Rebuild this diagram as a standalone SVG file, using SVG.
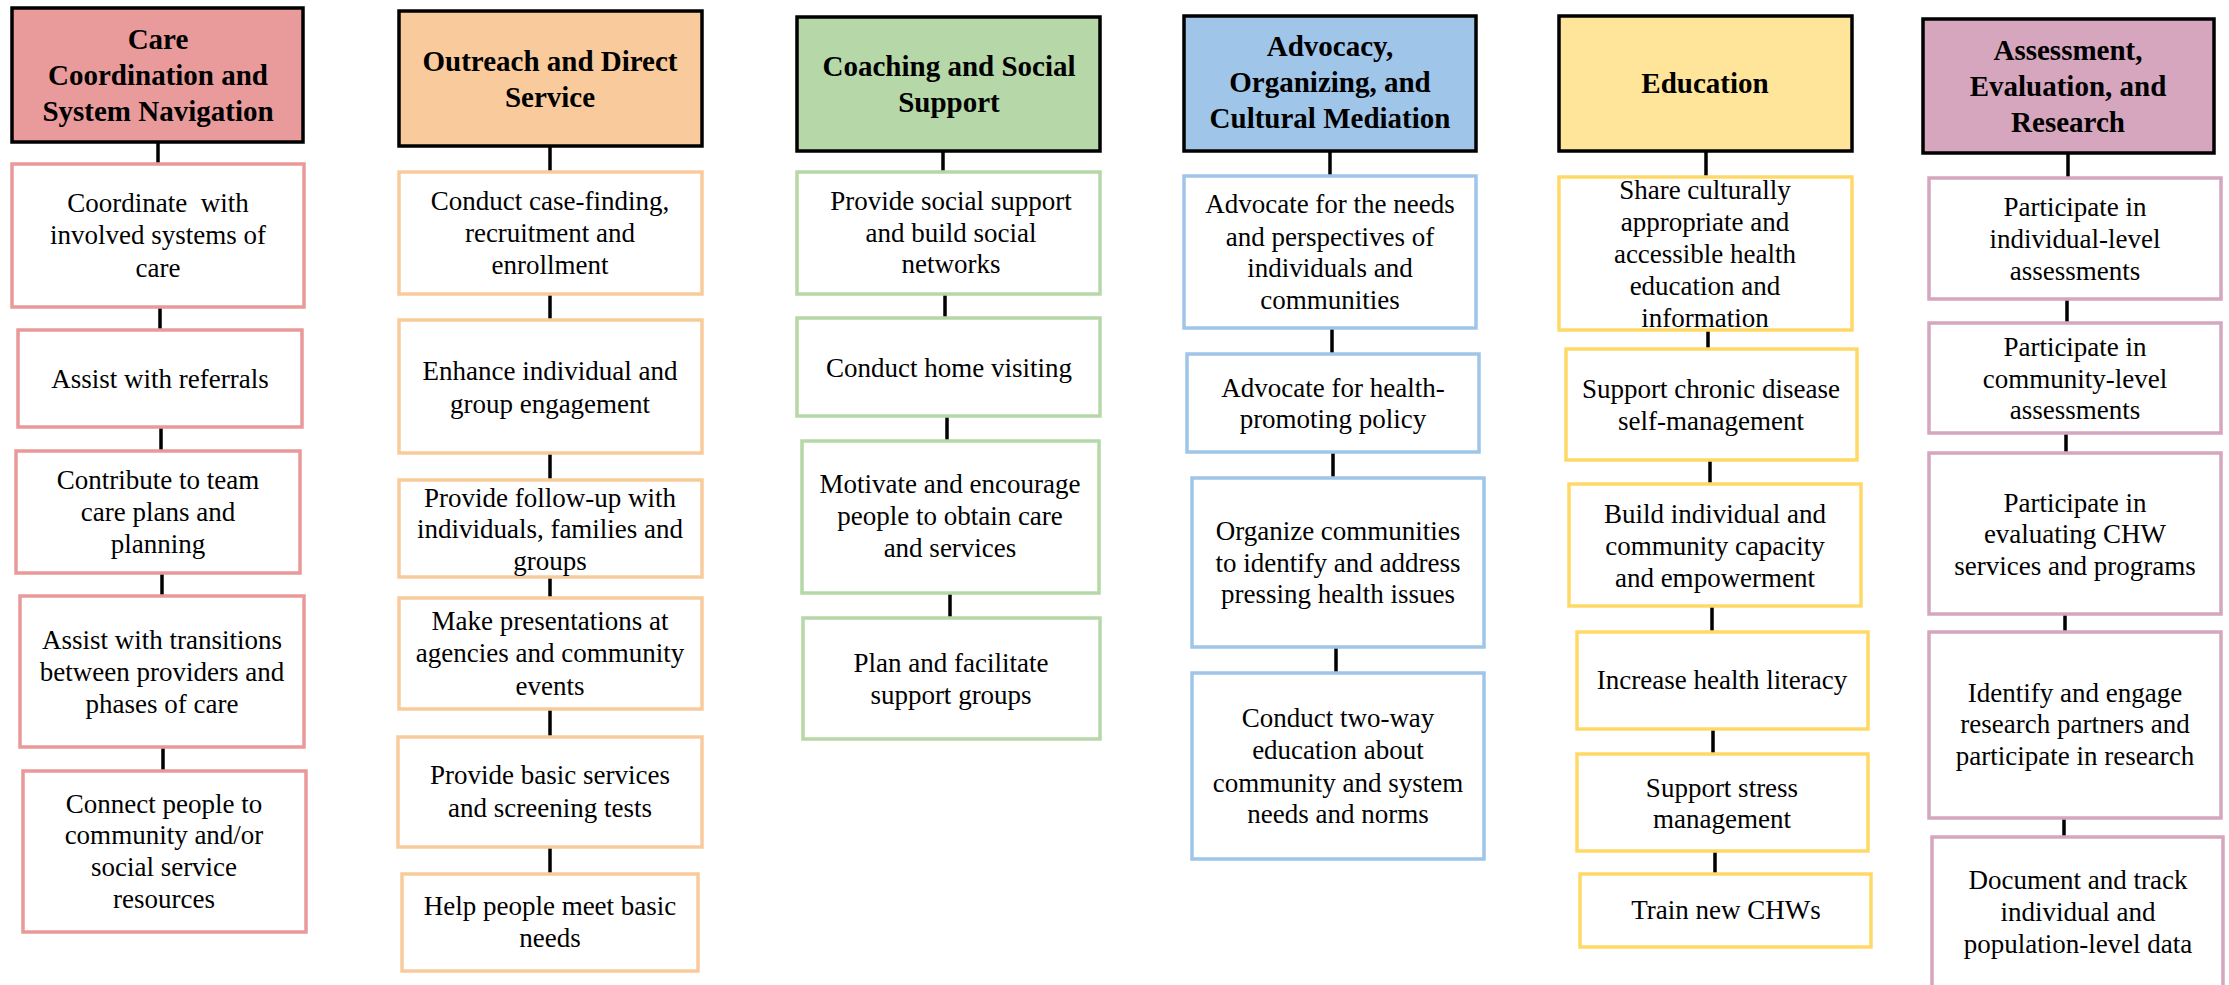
<svg xmlns="http://www.w3.org/2000/svg" width="2229" height="985" viewBox="0 0 2229 985" font-family="'Liberation Serif', 'DejaVu Serif', serif">
<style>
text{font-family:'Liberation Serif','DejaVu Serif',serif;text-anchor:middle;fill:#000}
.h text{font-size:29px;font-weight:bold}
.b text{font-size:27px}
.h rect{stroke:#000;stroke-width:3.5}
.b rect{fill:#fff;stroke-width:3.5}
.conn line{stroke:#000;stroke-width:3.5}
.c1 .h rect{fill:#E99A9B}.c1 .b rect{stroke:#EA9999}
.c2 .h rect{fill:#F9CB9C}.c2 .b rect{stroke:#F9CB9C}
.c3 .h rect{fill:#B6D7A8}.c3 .b rect{stroke:#B6D7A8}
.c4 .h rect{fill:#9FC5E8}.c4 .b rect{stroke:#9FC5E8}
.c5 .h rect{fill:#FFE599}.c5 .b rect{stroke:#FFD966}
.c6 .h rect{fill:#D5A6BD}.c6 .b rect{stroke:#D5A6BD}
</style>
<rect width="2229" height="985" fill="#fff"/>
<g id="connectors" class="conn">
<line x1="158" y1="143" x2="158" y2="163"/>
<line x1="160" y1="308" x2="160" y2="329"/>
<line x1="161" y1="428" x2="161" y2="450"/>
<line x1="162" y1="574" x2="162" y2="595"/>
<line x1="163" y1="748" x2="163" y2="770"/>
<line x1="550" y1="147" x2="550" y2="171"/>
<line x1="550" y1="295" x2="550" y2="319"/>
<line x1="550" y1="454" x2="550" y2="479"/>
<line x1="550" y1="578" x2="550" y2="597"/>
<line x1="550" y1="710" x2="550" y2="736"/>
<line x1="550" y1="848" x2="550" y2="873"/>
<line x1="943" y1="152" x2="943" y2="171"/>
<line x1="945" y1="295" x2="945" y2="317"/>
<line x1="947" y1="417" x2="947" y2="440"/>
<line x1="950" y1="594" x2="950" y2="617"/>
<line x1="1330" y1="152" x2="1330" y2="175"/>
<line x1="1332" y1="329" x2="1332" y2="353"/>
<line x1="1333" y1="453" x2="1333" y2="477"/>
<line x1="1336" y1="648" x2="1336" y2="672"/>
<line x1="1706" y1="152" x2="1706" y2="176"/>
<line x1="1708" y1="331" x2="1708" y2="348"/>
<line x1="1710" y1="461" x2="1710" y2="483"/>
<line x1="1712" y1="607" x2="1712" y2="631"/>
<line x1="1713" y1="730" x2="1713" y2="753"/>
<line x1="1715" y1="852" x2="1715" y2="873"/>
<line x1="2068" y1="154" x2="2068" y2="177"/>
<line x1="2067" y1="300" x2="2067" y2="322"/>
<line x1="2066" y1="434" x2="2066" y2="452"/>
<line x1="2065" y1="615" x2="2065" y2="631"/>
<line x1="2064" y1="819" x2="2064" y2="836"/>
</g>

<g class="c1">
<g id="n1" class="h"><rect x="12" y="8" width="291" height="134"/><text x="158" y="49">Care</text><text x="158" y="85">Coordination and</text><text x="158" y="121">System Navigation</text></g>
<g id="n1a" class="b"><rect x="12" y="164" width="292" height="143"/><text x="158" y="212" xml:space="preserve">Coordinate  with</text><text x="158" y="244">involved systems of</text><text x="158" y="277">care</text></g>
<g id="n1b" class="b"><rect x="18" y="330" width="284" height="97"/><text x="160" y="388">Assist with referrals</text></g>
<g id="n1c" class="b"><rect x="16" y="451" width="284" height="122"/><text x="158" y="489">Contribute to team</text><text x="158" y="521">care plans and</text><text x="158" y="553">planning</text></g>
<g id="n1d" class="b"><rect x="20" y="596" width="284" height="151"/><text x="162" y="649">Assist with transitions</text><text x="162" y="681">between providers and</text><text x="162" y="713">phases of care</text></g>
<g id="n1e" class="b"><rect x="23" y="771" width="283" height="161"/><text x="164" y="813">Connect people to</text><text x="164" y="844">community and/or</text><text x="164" y="876">social service</text><text x="164" y="908">resources</text></g>
</g>

<g class="c2">
<g id="n2" class="h"><rect x="399" y="11" width="303" height="135"/><text x="550" y="71">Outreach and Direct</text><text x="550" y="107">Service</text></g>
<g id="n2a" class="b"><rect x="399" y="172" width="303" height="122"/><text x="550" y="210">Conduct case-finding,</text><text x="550" y="242">recruitment and</text><text x="550" y="274">enrollment</text></g>
<g id="n2b" class="b"><rect x="399" y="320" width="303" height="133"/><text x="550" y="380">Enhance individual and</text><text x="550" y="413">group engagement</text></g>
<g id="n2c" class="b"><rect x="399" y="480" width="303" height="97"/><text x="550" y="507">Provide follow-up with</text><text x="550" y="538">individuals, families and</text><text x="550" y="570">groups</text></g>
<g id="n2d" class="b"><rect x="399" y="598" width="303" height="111"/><text x="550" y="630">Make presentations at</text><text x="550" y="662">agencies and community</text><text x="550" y="695">events</text></g>
<g id="n2e" class="b"><rect x="398" y="737" width="304" height="110"/><text x="550" y="784">Provide basic services</text><text x="550" y="817">and screening tests</text></g>
<g id="n2f" class="b"><rect x="402" y="874" width="296" height="97"/><text x="550" y="915">Help people meet basic</text><text x="550" y="947">needs</text></g>
</g>

<g class="c3">
<g id="n3" class="h"><rect x="797" y="17" width="303" height="134"/><text x="949" y="76">Coaching and Social</text><text x="949" y="112">Support</text></g>
<g id="n3a" class="b"><rect x="797" y="172" width="303" height="122"/><text x="951" y="210">Provide social support</text><text x="951" y="242">and build social</text><text x="951" y="273">networks</text></g>
<g id="n3b" class="b"><rect x="797" y="318" width="303" height="98"/><text x="949" y="377">Conduct home visiting</text></g>
<g id="n3c" class="b"><rect x="802" y="441" width="297" height="152"/><text x="950" y="493">Motivate and encourage</text><text x="950" y="525">people to obtain care</text><text x="950" y="557">and services</text></g>
<g id="n3d" class="b"><rect x="803" y="618" width="297" height="121"/><text x="951" y="672">Plan and facilitate</text><text x="951" y="704">support groups</text></g>
</g>

<g class="c4">
<g id="n4" class="h"><rect x="1184" y="16" width="292" height="135"/><text x="1330" y="56">Advocacy,</text><text x="1330" y="92">Organizing, and</text><text x="1330" y="128">Cultural Mediation</text></g>
<g id="n4a" class="b"><rect x="1184" y="176" width="292" height="152"/><text x="1330" y="213">Advocate for the needs</text><text x="1330" y="246">and perspectives of</text><text x="1330" y="277">individuals and</text><text x="1330" y="309">communities</text></g>
<g id="n4b" class="b"><rect x="1187" y="354" width="292" height="98"/><text x="1333" y="397">Advocate for health-</text><text x="1333" y="428">promoting policy</text></g>
<g id="n4c" class="b"><rect x="1192" y="478" width="292" height="169"/><text x="1338" y="540">Organize communities</text><text x="1338" y="572">to identify and address</text><text x="1338" y="603">pressing health issues</text></g>
<g id="n4d" class="b"><rect x="1192" y="673" width="292" height="186"/><text x="1338" y="727">Conduct two-way</text><text x="1338" y="759">education about</text><text x="1338" y="792">community and system</text><text x="1338" y="823">needs and norms</text></g>
</g>

<g class="c5">
<g id="n5" class="h"><rect x="1559" y="16" width="293" height="135"/><text x="1705" y="93">Education</text></g>
<g id="n5a" class="b"><rect x="1559" y="177" width="293" height="153"/><text x="1705" y="199">Share culturally</text><text x="1705" y="231">appropriate and</text><text x="1705" y="263">accessible health</text><text x="1705" y="295">education and</text><text x="1705" y="327">information</text></g>
<g id="n5b" class="b"><rect x="1566" y="349" width="291" height="111"/><text x="1711" y="398">Support chronic disease</text><text x="1711" y="430">self-management</text></g>
<g id="n5c" class="b"><rect x="1569" y="484" width="292" height="122"/><text x="1715" y="523">Build individual and</text><text x="1715" y="555">community capacity</text><text x="1715" y="587">and empowerment</text></g>
<g id="n5d" class="b"><rect x="1577" y="632" width="291" height="97"/><text x="1722" y="689">Increase health literacy</text></g>
<g id="n5e" class="b"><rect x="1577" y="754" width="291" height="97"/><text x="1722" y="797">Support stress</text><text x="1722" y="828">management</text></g>
<g id="n5f" class="b"><rect x="1580" y="874" width="291" height="73"/><text x="1726" y="919">Train new CHWs</text></g>
</g>

<g class="c6">
<g id="n6" class="h"><rect x="1923" y="19" width="291" height="134"/><text x="2068" y="60">Assessment,</text><text x="2068" y="96">Evaluation, and</text><text x="2068" y="132">Research</text></g>
<g id="n6a" class="b"><rect x="1929" y="178" width="292" height="121"/><text x="2075" y="216">Participate in</text><text x="2075" y="248">individual-level</text><text x="2075" y="280">assessments</text></g>
<g id="n6b" class="b"><rect x="1929" y="323" width="292" height="110"/><text x="2075" y="356">Participate in</text><text x="2075" y="388">community-level</text><text x="2075" y="419">assessments</text></g>
<g id="n6c" class="b"><rect x="1929" y="453" width="292" height="161"/><text x="2075" y="512">Participate in</text><text x="2075" y="543">evaluating CHW</text><text x="2075" y="575">services and programs</text></g>
<g id="n6d" class="b"><rect x="1929" y="632" width="292" height="186"/><text x="2075" y="702">Identify and engage</text><text x="2075" y="733">research partners and</text><text x="2075" y="765">participate in research</text></g>
<g id="n6e" class="b"><rect x="1932" y="837" width="291" height="160"/><text x="2078" y="889">Document and track</text><text x="2078" y="921">individual and</text><text x="2078" y="953">population-level data</text></g>
</g>
</svg>
